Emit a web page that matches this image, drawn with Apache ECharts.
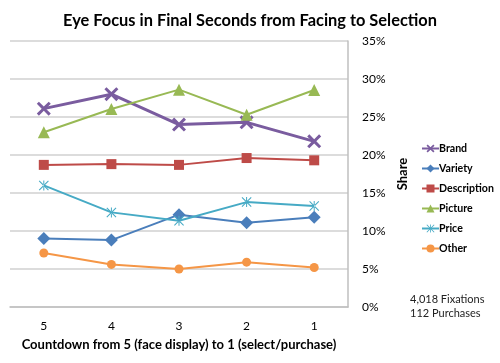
<!DOCTYPE html>
<html><head><meta charset="utf-8">
<script src="https://cdn.jsdelivr.net/npm/echarts@6/dist/echarts.min.js"></script>
<style>html,body{margin:0;padding:0;background:#fff}#c{width:500px;height:363px}</style>
</head><body><div id="c"></div>
<script>
const categories = ['5', '4', '3', '2', '1'];
const brand = [26.1, 28.0, 24.0, 24.3, 21.8];
const variety = [9.0, 8.8, 12.15, 11.1, 11.8];
const description = [18.7, 18.8, 18.7, 19.6, 19.3];
const picture = [23.0, 26.05, 28.6, 25.3, 28.55];
const price = [16.0, 12.45, 11.35, 13.8, 13.3];
const other = [7.1, 5.6, 5.0, 5.9, 5.2];
const yTicks = [0, 5, 10, 15, 20, 25, 30, 35];

const FONT = 'Lato';
const X_PATH = 'path://M0,3 L3,0 L10,7 L17,0 L20,3 L13,10 L20,17 L17,20 L10,13 L3,20 L0,17 L7,10 Z';
const STAR_PATH = 'path://M0,1.5 L1.5,0 L10,8.5 L18.5,0 L20,1.5 L11.5,10 L20,18.5 L18.5,20 L10,11.5 L1.5,20 L0,18.5 L8.5,10 Z M9,0 L9,20 L11,20 L11,0 Z';

function s(name, data, color, symbol, size, width) {
  return {
    name, type: 'line', data: data.map(v => v / 100),
    symbol, symbolSize: size,
    lineStyle: { color, width },
    itemStyle: { color },
    z: 3
  };
}

const chart = echarts.init(document.getElementById('c'), null, { renderer: 'canvas' });
chart.setOption({
  animation: false,
  backgroundColor: '#fff',
  title: {
    text: 'Eye Focus in Final Seconds from Facing to Selection',
    left: 'center', top: 8,
    textStyle: { fontFamily: FONT, fontWeight: 'bold', fontSize: 16.4, color: '#000' }
  },
  grid: { left: 10, right: 152, top: 41, bottom: 56 },
  legend: {
    orient: 'vertical', left: 416, top: 138, itemGap: 9,
    itemWidth: 17, itemHeight: 10,
    textStyle: { fontFamily: FONT, fontWeight: 'bold', fontSize: 10.6, color: '#000', padding: [0, 0, 0, -5] },
    data: ['Brand', 'Variety', 'Description', 'Picture', 'Price', 'Other']
  },
  xAxis: {
    type: 'category', data: categories, boundaryGap: true,
    axisLine: { lineStyle: { color: '#BFBFBF', width: 1.5 } },
    axisTick: { show: false },
    axisLabel: { fontFamily: FONT, fontSize: 12, color: '#000', margin: 13 },
    name: 'Countdown from 5 (face display) to 1 (select/purchase)',
    nameLocation: 'middle', nameGap: 31,
    nameTextStyle: { fontFamily: FONT, fontWeight: 'bold', fontSize: 13, color: '#000' }
  },
  yAxis: {
    type: 'value', position: 'right', min: 0, max: 0.35, interval: 0.05,
    axisLine: { show: true, lineStyle: { color: '#BFBFBF', width: 1.5 } },
    axisTick: { show: false },
    splitLine: { lineStyle: { color: '#D0D0D0', width: 1.5 } },
    axisLabel: {
      fontFamily: FONT, fontSize: 12, color: '#000', margin: 14,
      formatter: v => { const p = Math.round(v * 100); return yTicks.includes(p) ? p + '%' : ''; }
    },
    name: 'Share', nameLocation: 'middle', nameRotate: 90, nameGap: 37,
    nameTextStyle: { fontFamily: FONT, fontWeight: 'bold', fontSize: 13, color: '#000' }
  },
  series: [
    s('Brand', brand, '#7A5C9F', X_PATH, 14, 3),
    s('Variety', variety, '#4A7EBB', 'diamond', 13, 2),
    s('Description', description, '#BE4B48', 'rect', 10, 2),
    s('Picture', picture, '#98B954', 'triangle', 12, 2),
    s('Price', price, '#46AAC5', STAR_PATH, 10, 2),
    s('Other', other, '#F59646', 'circle', 9, 2)
  ],
  graphic: [{
    type: 'text', left: 410, top: 292,
    style: { text: '4,018 Fixations\n112 Purchases', fontFamily: FONT, fontSize: 11, lineHeight: 14, fill: '#222' }
  }]
});
</script>
</body></html>
